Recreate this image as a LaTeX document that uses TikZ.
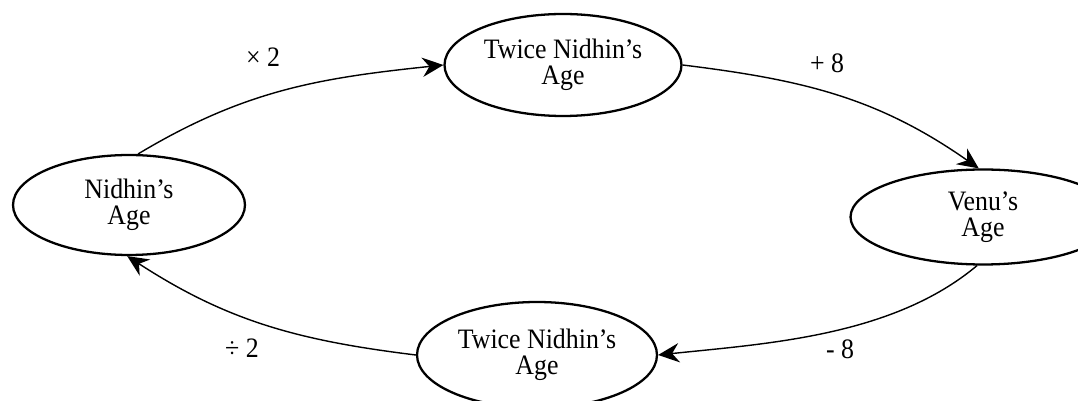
\documentclass[tikz,border=0pt]{standalone}
\usepackage{fontspec}
\setmainfont{Liberation Serif}[FakeStretch=0.92]
\usetikzlibrary{arrows.meta,shapes.geometric}

\begin{document}
\begin{tikzpicture}[
    x=0.02cm,y=0.02cm,
    age/.style={draw,ellipse,line width=1.3pt,inner sep=0pt,align=center,font=\fontsize{16}{15}\selectfont},
    op/.style={font=\fontsize{16}{15}\selectfont},
    flow/.style={line width=0.8pt,-{Stealth[length=12pt,width=11pt,inset=4pt]}}
  ]
    \useasboundingbox (0,0) rectangle (1078,-401);
    \clip (0,0) rectangle (1078,-401);

    % Ages round the cycle
    \node[age,minimum width=4.64cm,minimum height=2.0cm] (nidhin) at (129,-205) {Nidhin’s\\Age};
    \node[age,minimum width=4.74cm,minimum height=2.04cm] (twiceTop) at (563,-65) {Twice Nidhin’s\\Age};
    \node[age,minimum width=5.3cm,minimum height=1.9cm] (venu) at (983,-217) {Venu’s\\Age};
    \node[age,minimum width=4.8cm,minimum height=2.12cm] (twiceBot) at (537,-355) {Twice Nidhin’s\\Age};

    % Operations
    \node[op] (lblTimes) at (263,-57) {× 2};
    \node[op] (lblPlus) at (827,-63) {+ 8};
    \node[op] (lblMinus) at (840,-349) {- 8};
    \node[op] (lblDiv) at (242,-348) {÷ 2};

    % Arrows
    \draw[flow] (nidhin.80) to[out=31,in=186] (twiceTop.west);
    \draw[flow] (twiceTop.east) to[out=-7,in=145] (venu.95);
    \draw[flow] (venu.263) to[out=-140,in=6,looseness=0.85] (twiceBot.east);
    \draw[flow] (twiceBot.west) to[out=173,in=-33] (nidhin.268);
  \end{tikzpicture}
\end{document}
